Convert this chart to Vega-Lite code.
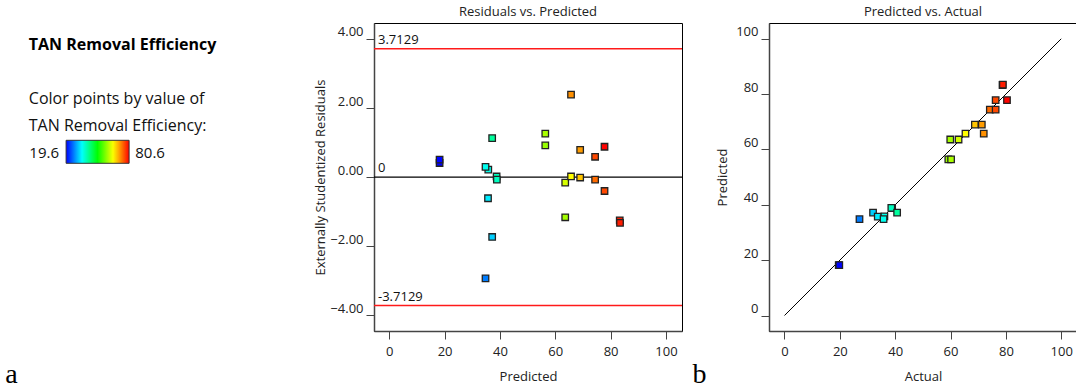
{
  "$schema": "https://vega.github.io/schema/vega-lite/v6.json",
  "padding": {"left": 5, "top": 5, "right": 0, "bottom": 0},
  "background": "white",
  "config": {
    "font": "Open Sans",
    "view": {"stroke": "#000", "strokeWidth": 1},
    "axis": {"grid": false, "domainColor": "#444", "domainWidth": 1.5, "tickColor": "#444", "tickSize": 8, "labelFontSize": 13, "titleFontSize": 13, "labelColor": "#222", "titleColor": "#222", "titleFontWeight": "normal"},
    "title": {"fontSize": 13, "fontWeight": "normal", "color": "#222"},
    "concat": {"spacing": 8}
  },
  "datasets": {
    "runs": [
      {"actual": 19.6, "predicted": 18.2, "residual": 0.41},
      {"actual": 19.8, "predicted": 18.2, "residual": 0.51},
      {"actual": 27.1, "predicted": 34.8, "residual": -2.93},
      {"actual": 32.0, "predicted": 37.2, "residual": -1.73},
      {"actual": 33.7, "predicted": 35.7, "residual": -0.61},
      {"actual": 36.1, "predicted": 35.8, "residual": 0.22},
      {"actual": 35.8, "predicted": 34.8, "residual": 0.30},
      {"actual": 38.9, "predicted": 38.8, "residual": 0.02},
      {"actual": 38.6, "predicted": 38.9, "residual": -0.07},
      {"actual": 40.7, "predicted": 37.2, "residual": 1.13},
      {"actual": 59.2, "predicted": 56.4, "residual": 0.92},
      {"actual": 60.2, "predicted": 56.4, "residual": 1.26},
      {"actual": 59.9, "predicted": 63.6, "residual": -1.16},
      {"actual": 62.9, "predicted": 63.6, "residual": -0.16},
      {"actual": 65.4, "predicted": 65.7, "residual": 0.02},
      {"actual": 72.0, "predicted": 65.7, "residual": 2.39},
      {"actual": 68.8, "predicted": 69.0, "residual": -0.01},
      {"actual": 71.3, "predicted": 69.0, "residual": 0.79},
      {"actual": 74.2, "predicted": 74.4, "residual": -0.07},
      {"actual": 76.3, "predicted": 74.4, "residual": 0.59},
      {"actual": 76.3, "predicted": 77.8, "residual": -0.40},
      {"actual": 80.4, "predicted": 77.8, "residual": 0.88},
      {"actual": 78.8, "predicted": 83.3, "residual": -1.25},
      {"actual": 78.9, "predicted": 83.4, "residual": -1.32}
    ],
    "refs": [
      {"value": 3.7129, "label": "3.7129", "kind": "limit"},
      {"value": -3.7129, "label": "-3.7129", "kind": "limit"},
      {"value": 0, "label": "0", "kind": "zero"}
    ],
    "diag": [
      {"actual": 0, "predicted": 0},
      {"actual": 100, "predicted": 100}
    ]
  },
  "resolve": {"scale": {"color": "independent"}, "legend": {"color": "independent"}},
  "hconcat": [
    {
      "title": {"text": "a", "orient": "bottom", "anchor": "start", "frame": "bounds", "font": "Liberation Serif", "fontSize": 28, "fontWeight": "normal", "color": "#000", "offset": -23, "dx": -23.5},
      "resolve": {"legend": {"color": "independent"}},
      "vconcat": [
        {
          "title": {"text": "TAN Removal Efficiency", "subtitle": ["Color points by value of", "TAN Removal Efficiency:"], "orient": "top", "anchor": "start", "frame": "bounds", "dx": -36.8, "fontSize": 16, "fontWeight": "bold", "color": "#000", "subtitleFont": "Open Sans", "subtitleFontSize": 16, "subtitleColor": "#111", "subtitleLineHeight": 27, "subtitlePadding": 38, "offset": -128},
          "resolve": {"legend": {"color": "independent"}},
          "hconcat": [
            {
              "width": 308,
              "height": 308,
              "title": {"text": "Residuals vs. Predicted", "offset": 4},
              "layer": [
                {
                  "data": {"name": "refs"},
                  "transform": [{"filter": "datum.kind === 'limit'"}],
                  "mark": {"type": "rule", "color": "#ff1a1a", "strokeWidth": 1.5},
                  "encoding": {
                    "y": {"field": "value", "type": "quantitative", "scale": {"domain": [-4.45, 4.46], "nice": false, "zero": false},
                      "axis": {"title": "Externally Studentized Residuals", "values": [-4, -2, 0, 2, 4], "format": ".2f", "labelBaseline": "bottom", "labelPadding": 3, "titlePadding": 2}}
                  }
                },
                {
                  "data": {"name": "refs"},
                  "transform": [{"filter": "datum.kind === 'zero'"}],
                  "mark": {"type": "rule", "color": "#000", "strokeWidth": 1.2},
                  "encoding": {"y": {"field": "value", "type": "quantitative"}}
                },
                {
                  "data": {"name": "refs"},
                  "mark": {"type": "text", "align": "left", "baseline": "alphabetic", "dx": 4, "dy": -5, "fontSize": 13, "color": "#111"},
                  "encoding": {
                    "x": {"datum": -5.5, "type": "quantitative"},
                    "y": {"field": "value", "type": "quantitative"},
                    "text": {"field": "label"}
                  }
                },
                {
                  "data": {"name": "runs"},
                  "mark": {"type": "point", "shape": "square", "filled": true, "size": 42, "stroke": "#222", "strokeWidth": 1.3, "opacity": 1},
                  "encoding": {
                    "x": {"field": "predicted", "type": "quantitative", "scale": {"domain": [-5.5, 105.8], "nice": false, "zero": false},
                      "axis": {"title": "Predicted", "values": [0, 20, 40, 60, 80, 100], "labelPadding": 6, "titlePadding": 12}},
                    "y": {"field": "residual", "type": "quantitative"},
                    "color": {"field": "actual", "type": "quantitative",
                      "scale": {"domain": [19.6, 80.6], "range": ["#0000ff", "#00ffff", "#00ff00", "#ffff00", "#ff0000"], "interpolate": "rgb"},
                      "legend": {
                        "type": "gradient",
                        "orient": "none", "legendX": -307.9, "legendY": 117.3, "direction": "horizontal", "title": null,
                        "gradientLength": 63, "gradientThickness": 23, "gradientStrokeColor": "#333", "gradientStrokeWidth": 1,
                        "values": [-16.0, 115.3],
                        "labelFontSize": 15, "labelColor": "#111", "labelOffset": -17,
                        "labelExpr": "datum.value < 50 ? '19.6' : '80.6'",
                        "padding": 0
                      }
                    }
                  }
                }
              ]
            }
          ]
        }
      ]
    },
    {
      "title": {"text": "b", "orient": "bottom", "anchor": "start", "frame": "bounds", "font": "Liberation Serif", "fontSize": 28, "fontWeight": "normal", "color": "#000", "offset": -23, "dx": -23.7},
      "hconcat": [
        {
          "width": 308,
          "height": 308,
          "title": {"text": "Predicted vs. Actual", "offset": 4},
          "layer": [
            {
              "data": {"name": "diag"},
              "mark": {"type": "line", "color": "#000", "strokeWidth": 1},
              "encoding": {
                "x": {"field": "actual", "type": "quantitative", "scale": {"domain": [-5.6, 105.7], "nice": false, "zero": false},
                  "axis": {"title": "Actual", "values": [0, 20, 40, 60, 80, 100], "labelPadding": 6, "titlePadding": 12}},
                "y": {"field": "predicted", "type": "quantitative", "scale": {"domain": [-5.6, 105.7], "nice": false, "zero": false},
                  "axis": {"title": "Predicted", "values": [0, 20, 40, 60, 80, 100], "labelBaseline": "bottom", "labelPadding": 3, "titlePadding": 6}}
              }
            },
            {
              "data": {"name": "runs"},
              "mark": {"type": "point", "shape": "square", "filled": true, "size": 42, "stroke": "#222", "strokeWidth": 1.3, "opacity": 1},
              "encoding": {
                "x": {"field": "actual", "type": "quantitative"},
                "y": {"field": "predicted", "type": "quantitative"},
                "color": {"field": "actual", "type": "quantitative",
                  "scale": {"domain": [19.6, 80.6], "range": ["#0000ff", "#00ffff", "#00ff00", "#ffff00", "#ff0000"], "interpolate": "rgb"},
                  "legend": null}
              }
            }
          ]
        }
      ]
    }
  ]
}
